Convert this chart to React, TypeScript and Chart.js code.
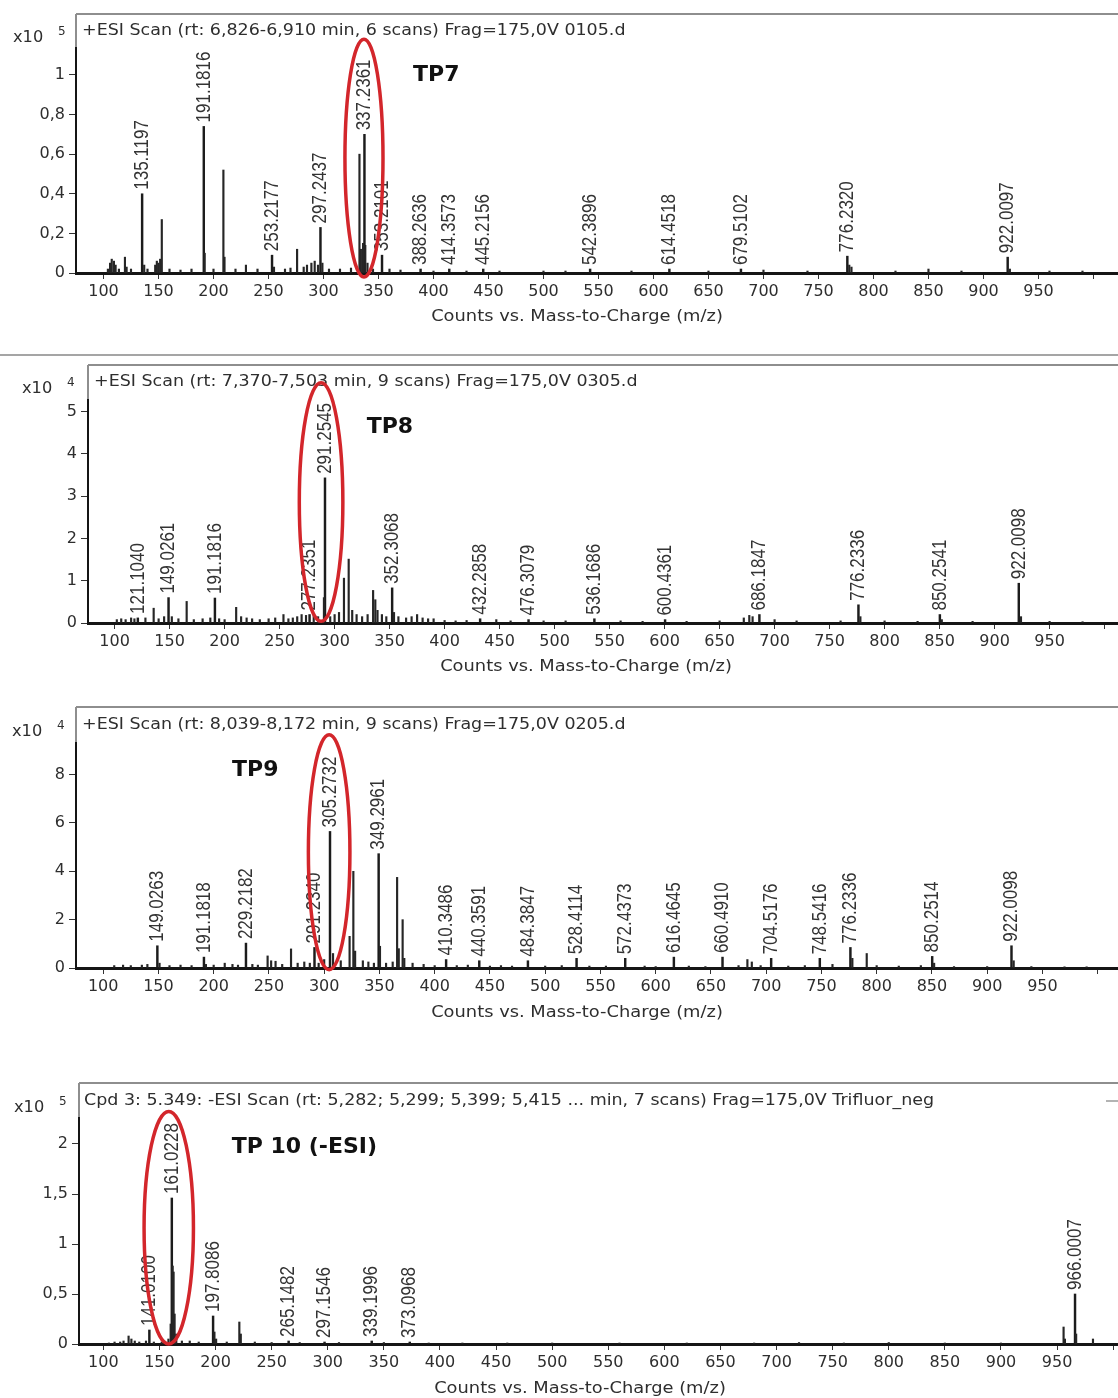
import React, { useEffect, useRef } from "react";
import { Chart, registerables } from "chart.js";

Chart.register(...registerables);

// ---------------- DATA ----------------
// TP7 (x10^5 counts)
const tp7LabelMz = [135.1197, 191.1816, 253.2177, 297.2437, 337.2361, 353.2101, 388.2636, 414.3573, 445.2156, 542.3896, 614.4518, 679.5102, 776.232, 922.0097];
const tp7LabelInt = [0.4, 0.74, 0.09, 0.23, 0.7, 0.09, 0.02, 0.02, 0.02, 0.02, 0.02, 0.02, 0.085, 0.08];
const tp7Minor: number[][] = [
  [104, 0.02], [106, 0.05], [107.5, 0.07], [109.5, 0.06], [111, 0.04], [114, 0.02], [119.5, 0.08], [121, 0.03],
  [125, 0.02], [137, 0.04], [140, 0.02], [147, 0.04], [148.5, 0.06], [150, 0.05], [151.5, 0.07], [153, 0.27],
  [160, 0.02], [170, 0.015], [180, 0.02], [192, 0.1], [200, 0.02], [209, 0.52], [210, 0.08], [220, 0.02],
  [229.5, 0.04], [240, 0.02], [255, 0.03], [265, 0.02], [270, 0.025], [276, 0.12], [282, 0.03], [285, 0.04],
  [289, 0.05], [292, 0.06], [295, 0.04], [299, 0.05], [305, 0.02], [315, 0.02], [325, 0.025], [332.7, 0.6],
  [334, 0.12], [336, 0.15], [338, 0.14], [340, 0.05], [345, 0.02], [360, 0.02], [370, 0.015], [400, 0.01],
  [430, 0.01], [460, 0.01], [500, 0.01], [520, 0.01], [580, 0.01], [650, 0.01], [700, 0.015], [740, 0.01],
  [778, 0.04], [780, 0.03], [820, 0.01], [850, 0.02], [880, 0.01], [924, 0.02], [960, 0.01], [990, 0.01],
];
const tp7YTicks = [0, 0.2, 0.4, 0.6, 0.8, 1];

// TP8 (x10^4 counts)
const tp8LabelMz = [121.104, 149.0261, 191.1816, 277.2351, 291.2545, 352.3068, 432.2858, 476.3079, 536.1686, 600.4361, 686.1847, 776.2336, 850.2541, 922.0098];
const tp8LabelInt = [0.12, 0.6, 0.59, 0.2, 3.43, 0.83, 0.1, 0.08, 0.1, 0.08, 0.2, 0.43, 0.2, 0.94];
const tp8Minor: number[][] = [
  [102, 0.08], [106, 0.1], [110, 0.08], [115, 0.12], [118, 0.1], [128, 0.12], [135.5, 0.35], [140, 0.1],
  [145, 0.15], [152, 0.15], [158, 0.1], [165.5, 0.51], [172, 0.08], [180, 0.1], [187, 0.12], [195, 0.1],
  [200, 0.08], [210.5, 0.37], [215, 0.15], [220, 0.12], [225, 0.1], [232, 0.08], [240, 0.1], [246, 0.12],
  [253.5, 0.2], [258, 0.1], [262, 0.12], [266, 0.15], [270, 0.2], [274, 0.18], [281, 0.18], [285, 0.15],
  [290.3, 0.6], [296, 0.15], [300, 0.2], [304, 0.25], [308.5, 1.06], [312.8, 1.51], [316, 0.3], [320, 0.2],
  [325, 0.15], [330, 0.2], [335, 0.77], [337, 0.55], [339, 0.3], [343, 0.2], [347, 0.15], [354, 0.25],
  [358, 0.15], [365, 0.12], [370, 0.15], [375, 0.2], [380, 0.12], [385, 0.1], [390, 0.1], [400, 0.06],
  [410, 0.05], [420, 0.06], [447, 0.08], [460, 0.05], [490, 0.05], [510, 0.05], [560, 0.05], [580, 0.04],
  [620, 0.04], [650, 0.05], [672, 0.12], [677, 0.18], [680, 0.15], [700, 0.08], [720, 0.05], [760, 0.05],
  [778, 0.15], [800, 0.05], [830, 0.04], [852, 0.08], [880, 0.04], [924, 0.15], [950, 0.04], [980, 0.03],
];
const tp8YTicks = [0, 1, 2, 3, 4, 5];

// TP9 (x10^4 counts)
const tp9LabelMz = [149.0263, 191.1818, 229.2182, 291.234, 305.2732, 349.2961, 410.3486, 440.3591, 484.3847, 528.4114, 572.4373, 616.4645, 660.491, 704.5176, 748.5416, 776.2336, 850.2514, 922.0098];
const tp9LabelInt = [0.92, 0.45, 1.03, 0.85, 5.65, 4.73, 0.35, 0.3, 0.3, 0.4, 0.4, 0.45, 0.45, 0.4, 0.4, 0.85, 0.48, 0.92];
const tp9Minor: number[][] = [
  [110, 0.1], [118, 0.12], [125, 0.1], [135, 0.12], [140, 0.15], [151, 0.2], [160, 0.1], [170, 0.12],
  [180, 0.1], [193, 0.15], [200, 0.12], [210, 0.2], [217, 0.15], [222, 0.12], [235, 0.15], [240, 0.12],
  [248.8, 0.5], [252, 0.3], [256, 0.28], [262, 0.15], [270, 0.79], [276, 0.2], [282, 0.25], [287, 0.2],
  [295, 0.2], [300, 0.35], [308, 0.6], [315, 0.3], [323, 1.31], [326.4, 4.0], [328, 0.7], [335, 0.3],
  [340, 0.25], [345, 0.2], [350.5, 0.9], [356, 0.2], [362, 0.25], [366, 3.75], [367.5, 0.8], [371, 2.0],
  [372.5, 0.4], [380, 0.2], [390, 0.15], [400, 0.1], [420, 0.1], [430, 0.12], [450, 0.08], [460, 0.1],
  [470, 0.08], [500, 0.08], [515, 0.1], [540, 0.08], [555, 0.08], [590, 0.08], [600, 0.06], [630, 0.08],
  [645, 0.06], [675, 0.1], [683, 0.35], [687, 0.25], [695, 0.1], [720, 0.08], [735, 0.1], [760, 0.15],
  [778, 0.4], [791, 0.6], [800, 0.1], [820, 0.08], [840, 0.1], [852, 0.2], [870, 0.06], [900, 0.06],
  [924, 0.3], [940, 0.06], [970, 0.05], [990, 0.05],
];
const tp9YTicks = [0, 2, 4, 6, 8];

// TP10 (x10^5 counts, negative ESI)
const tp10LabelMz = [141.01, 161.0228, 197.8086, 265.1482, 297.1546, 339.1996, 373.0968, 966.0007];
const tp10LabelInt = [0.14, 1.46, 0.28, 0.03, 0.02, 0.03, 0.02, 0.5];
const tp10Minor: number[][] = [
  [105, 0.01], [110, 0.02], [115, 0.02], [118, 0.03], [122.5, 0.08], [125, 0.05], [128, 0.03], [132, 0.02],
  [138, 0.03], [145, 0.02], [152, 0.02], [158, 0.05], [160, 0.2], [161.8, 0.78], [162.6, 0.72], [163.5, 0.3],
  [165, 0.1], [170, 0.03], [177, 0.03], [185, 0.02], [199, 0.12], [200.5, 0.05], [210, 0.02], [221.2, 0.22],
  [222.5, 0.1], [235, 0.02], [250, 0.015], [275, 0.015], [310, 0.015], [350, 0.015], [390, 0.01], [420, 0.01],
  [460, 0.01], [500, 0.01], [560, 0.01], [620, 0.01], [680, 0.01], [720, 0.015], [760, 0.01], [800, 0.015],
  [850, 0.01], [900, 0.01], [955.8, 0.17], [957, 0.05], [967, 0.1], [982, 0.05],
];
const tp10YTicks = [0, 0.5, 1, 1.5, 2];

const xTickValues = [100, 150, 200, 250, 300, 350, 400, 450, 500, 550, 600, 650, 700, 750, 800, 850, 900, 950, 1000];
const axisTitle = "Counts vs. Mass-to-Charge (m/z)";

// ---------------- LAYOUT / CONFIG ----------------
type PanelCfg = {
  key: string;
  top: number; height: number;
  frameTop: number; frameLeft: number; axisTop: number; axisY: number;
  xMin: number; xMax: number; yMax: number; yTicks: number[];
  exponent: string; title: string; titleX: number; titleY: number;
  x10X: number; x10Y: number; axisTitleX: number; axisTitleY: number;
  labelMz: number[]; labelInt: number[]; minor: number[][];
  ellipse: number[]; tpText: string; tpPos: number[];
  separatorY?: number; dash?: boolean;
};

const panels: PanelCfg[] = [
  {
    key: "tp7", top: 0, height: 340, frameTop: 14, frameLeft: 76, axisTop: 48, axisY: 273,
    xMin: 75, xMax: 1022.3, yMax: 1.136, yTicks: tp7YTicks, exponent: "5",
    title: "+ESI Scan (rt: 6,826-6,910 min, 6 scans) Frag=175,0V 0105.d", titleX: 82, titleY: 31,
    x10X: 13, x10Y: 38, axisTitleX: 577, axisTitleY: 317,
    labelMz: tp7LabelMz, labelInt: tp7LabelInt, minor: tp7Minor,
    ellipse: [336.8, 0.58, 17.3, 0.6], tpText: "TP7", tpPos: [381.4, 1.0],
  },
  {
    key: "tp8", top: 340, height: 345, frameTop: 25, frameLeft: 88, axisTop: 60, axisY: 283,
    xMin: 75.8, xMax: 1012.2, yMax: 5.27, yTicks: tp8YTicks, exponent: "4",
    title: "+ESI Scan (rt: 7,370-7,503 min, 9 scans) Frag=175,0V 0305.d", titleX: 94, titleY: 42,
    x10X: 22, x10Y: 49, axisTitleX: 586, axisTitleY: 327,
    labelMz: tp8LabelMz, labelInt: tp8LabelInt, minor: tp8Minor,
    ellipse: [287.7, 2.86, 19.8, 2.82], tpText: "TP8", tpPos: [329.2, 4.63], separatorY: 15,
  },
  {
    key: "tp9", top: 685, height: 345, frameTop: 22, frameLeft: 76, axisTop: 58, axisY: 283,
    xMin: 75.4, xMax: 1018.4, yMax: 9.31, yTicks: tp9YTicks, exponent: "4",
    title: "+ESI Scan (rt: 8,039-8,172 min, 9 scans) Frag=175,0V 0205.d", titleX: 82, titleY: 40,
    x10X: 12, x10Y: 47, axisTitleX: 577, axisTitleY: 328,
    labelMz: tp9LabelMz, labelInt: tp9LabelInt, minor: tp9Minor,
    ellipse: [304.5, 4.79, 18.8, 4.86], tpText: "TP9", tpPos: [216.6, 8.2],
  },
  {
    key: "tp10", top: 1030, height: 368, frameTop: 53, frameLeft: 79, axisTop: 88, axisY: 314,
    xMin: 78.3, xMax: 1004.3, yMax: 2.26, yTicks: tp10YTicks, exponent: "5",
    title: "Cpd 3: 5.349: -ESI Scan (rt: 5,282; 5,299; 5,399; 5,415 ... min, 7 scans) Frag=175,0V Trifluor_neg",
    titleX: 84, titleY: 71, x10X: 14, x10Y: 78, axisTitleX: 580, axisTitleY: 359,
    labelMz: tp10LabelMz, labelInt: tp10LabelInt, minor: tp10Minor,
    ellipse: [158.3, 1.163, 22, 1.163], tpText: "TP 10 (-ESI)", tpPos: [214.4, 1.97], dash: true,
  },
];

const SANS = '"DejaVu Sans", "Liberation Sans", sans-serif';
const TEXT = "#2e2e2e";

// draw horizontally stretched text (the source figure is stretched sideways)
function stretchText(ctx: any, text: string, x: number, y: number, sx: number, align: string) {
  ctx.save();
  ctx.translate(x, y);
  ctx.scale(sx, 1);
  ctx.textAlign = align;
  ctx.fillText(text, 0, 0);
  ctx.restore();
}

function makePlugin(c: PanelCfg) {
  return {
    id: "msAnnot_" + c.key,
    beforeDraw(chart: any) {
      const ctx = chart.ctx;
      ctx.save();
      ctx.strokeStyle = "#8e8e8e";
      ctx.lineWidth = 2;
      ctx.beginPath();
      ctx.moveTo(c.frameLeft, c.frameTop);
      ctx.lineTo(chart.width, c.frameTop);
      ctx.moveTo(c.frameLeft, c.frameTop);
      ctx.lineTo(c.frameLeft, c.axisY);
      ctx.stroke();
      if (c.separatorY !== undefined) {
        ctx.strokeStyle = "#a5a5a5";
        ctx.beginPath();
        ctx.moveTo(0, c.separatorY);
        ctx.lineTo(chart.width, c.separatorY);
        ctx.stroke();
      }
      ctx.restore();
    },
    afterDraw(chart: any) {
      const ctx = chart.ctx;
      const xs = chart.scales.x;
      const ys = chart.scales.y;
      ctx.save();
      // peak labels (rotated, reading upward)
      ctx.fillStyle = "#333";
      ctx.font = '17px "Liberation Sans", Arial, sans-serif';
      ctx.textAlign = "left";
      ctx.textBaseline = "middle";
      c.labelMz.forEach((mz, i) => {
        const px = xs.getPixelForValue(mz);
        const py = ys.getPixelForValue(c.labelInt[i]);
        ctx.save();
        ctx.translate(px, py - 4);
        ctx.scale(1.22, 1);
        ctx.rotate(-Math.PI / 2);
        ctx.fillText(mz.toFixed(4), 0, 0);
        ctx.restore();
      });
      // scan title
      ctx.fillStyle = TEXT;
      ctx.textBaseline = "middle";
      ctx.font = "15px " + SANS;
      stretchText(ctx, c.title, c.titleX, c.titleY, 1.165, "left");
      // x10^n
      ctx.font = "15px " + SANS;
      stretchText(ctx, "x10", c.x10X, c.x10Y, 1.08, "left");
      ctx.font = "12px " + SANS;
      ctx.textAlign = "left";
      ctx.fillText(c.exponent, c.x10X + 45, c.x10Y - 6);
      // axis title
      ctx.font = "15px " + SANS;
      stretchText(ctx, axisTitle, c.axisTitleX, c.axisTitleY, 1.19, "center");
      if (c.dash) {
        ctx.strokeStyle = "#9a9a9a";
        ctx.lineWidth = 1.5;
        ctx.beginPath();
        ctx.moveTo(1106, c.titleY);
        ctx.lineTo(1118, c.titleY);
        ctx.stroke();
      }
      // red ellipse
      const [cx, cy, rx, ry] = c.ellipse;
      const ex = xs.getPixelForValue(cx);
      const ey = ys.getPixelForValue(cy);
      const erx = Math.abs(xs.getPixelForValue(cx + rx) - ex);
      const ery = Math.abs(ys.getPixelForValue(cy + ry) - ey);
      ctx.strokeStyle = "#d3262b";
      ctx.lineWidth = 3.5;
      ctx.beginPath();
      ctx.ellipse(ex, ey, erx, ery, 0, 0, Math.PI * 2);
      ctx.stroke();
      // TP label
      ctx.fillStyle = "#111";
      ctx.font = 'bold 22px "DejaVu Sans", sans-serif';
      ctx.textAlign = "left";
      ctx.textBaseline = "middle";
      ctx.fillText(c.tpText, xs.getPixelForValue(c.tpPos[0]), ys.getPixelForValue(c.tpPos[1]));
      ctx.restore();
    },
  };
}

function fmtY(v: number) {
  const s = String(Math.round(v * 100) / 100);
  return s.replace(".", ",");
}

function Panel({ c }: { c: PanelCfg }) {
  const ref = useRef<HTMLCanvasElement>(null);
  useEffect(() => {
    const canvas = ref.current;
    if (!canvas) return;
    const chart = new Chart(canvas, {
      type: "bar",
      data: {
        datasets: [
          {
            data: c.minor.map((p) => ({ x: p[0], y: p[1] })),
            backgroundColor: "#262626",
            barThickness: 1.5,
            grouped: false,
          } as any,
          {
            data: c.labelMz.map((mz, i) => ({ x: mz, y: c.labelInt[i] })),
            backgroundColor: "#1c1c1c",
            barThickness: 1.8,
            grouped: false,
          } as any,
        ],
      },
      options: {
        animation: false,
        responsive: false,
        maintainAspectRatio: false,
        layout: { padding: { top: c.axisTop, left: 0, right: 0, bottom: 0 } },
        plugins: { legend: { display: false }, tooltip: { enabled: false }, title: { display: false } },
        scales: {
          x: {
            type: "linear",
            min: c.xMin,
            max: c.xMax,
            offset: false,
            afterBuildTicks: (s: any) => {
              s.ticks = xTickValues.map((v) => ({ value: v }));
            },
            afterFit: (s: any) => {
              s.height = c.height - c.axisY;
            },
            grid: { display: true, drawOnChartArea: false, drawTicks: true, tickLength: 6, color: "#333", offset: false },
            border: { display: true, color: "#151515", width: 3 },
            ticks: {
              autoSkip: false,
              maxRotation: 0,
              minRotation: 0,
              padding: 3,
              color: TEXT,
              font: { family: SANS, size: 16 },
              callback: (v: any) => (Number(v) >= 1000 ? "" : String(v)),
            },
          },
          y: {
            type: "linear",
            min: 0,
            max: c.yMax,
            afterBuildTicks: (s: any) => {
              s.ticks = c.yTicks.map((v) => ({ value: v }));
            },
            afterFit: (s: any) => {
              s.width = c.frameLeft;
            },
            grid: { display: true, drawOnChartArea: false, drawTicks: true, tickLength: 7, color: "#333" },
            border: { display: true, color: "#151515", width: 2 },
            ticks: {
              padding: 4,
              color: TEXT,
              font: { family: SANS, size: 16 },
              callback: (v: any) => fmtY(Number(v)),
            },
          },
        },
      } as any,
      plugins: [makePlugin(c)],
    });
    return () => chart.destroy();
  }, [c]);
  return (
    <canvas
      ref={ref}
      width={1118}
      height={c.height}
      style={{ position: "absolute", left: 0, top: c.top, width: 1118, height: c.height, display: "block" }}
    />
  );
}

export default function App() {
  return (
    <div style={{ position: "absolute", left: 0, top: 0, width: 1118, height: 1398, background: "#fff", overflow: "hidden" }}>
      {panels.map((c) => (
        <Panel key={c.key} c={c} />
      ))}
    </div>
  );
}
